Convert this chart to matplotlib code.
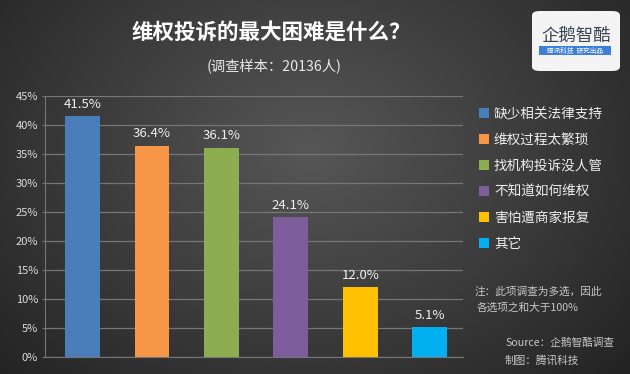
import numpy as np
import matplotlib
matplotlib.use("Agg")
import matplotlib.pyplot as plt
from matplotlib.patches import FancyBboxPatch, Rectangle

plt.rcParams['font.family'] = ['Noto Sans CJK SC', 'DejaVu Sans']

categories = ["缺少相关法律支持", "维权过程太繁琐", "找机构投诉没人管", "不知道如何维权", "害怕遭商家报复", "其它"]
values = [41.5, 36.4, 36.1, 24.1, 12.0, 5.1]
colors = ["#4A7EBB", "#F79646", "#8EAC50", "#7D5D9B", "#FFC000", "#00B0F0"]
yticks = [0, 5, 10, 15, 20, 25, 30, 35, 40, 45]
title = "维权投诉的最大困难是什么？"
subtitle = "(调查样本：20136人)"
note_lines = ["注：此项调查为多选，因此", "各选项之和大于100%"]
source_lines = ["Source：企鹅智酷调查", "制图：腾讯科技"]

W, H = 630, 374
fig = plt.figure(figsize=(W / 100, H / 100), dpi=100)

# background radial gradient
bg = fig.add_axes([0, 0, 1, 1], zorder=-10)
yy, xx = np.mgrid[0:H, 0:W]
d = np.sqrt(((xx - 310) / 420.0) ** 2 + ((yy - 150) / 330.0) ** 2)
g = np.clip(0.34 - 0.20 * d, 0.12, 0.37)
bg.imshow(np.dstack([g, g, g]), aspect='auto', extent=[0, 1, 0, 1])
bg.axis('off')

def fx(px):
    return px / W

def fy(py):
    return 1 - py / H

ax = fig.add_axes([fx(45), fy(357), fx(463) - fx(45), fy(96) - fy(357)])
ax.patch.set_alpha(0)
x = np.arange(len(categories))
bars = ax.bar(x, values, width=0.5, color=colors, zorder=3, label=categories)
ax.set_xlim(-0.54, 5.48)
ax.set_ylim(0, 45)
ax.set_yticks(yticks)
ax.set_yticklabels([f"{v}%" for v in yticks], color="#dddddd", fontsize=8)
ax.set_xticks([])
ax.yaxis.grid(True, color="#767676", linewidth=0.9, zorder=0)
for s in ["top", "right"]:
    ax.spines[s].set_visible(False)
ax.spines["left"].set_color("#767676")
ax.spines["bottom"].set_color("#767676")
ax.tick_params(axis='y', length=2, color="#767676", pad=3)

for b, v in zip(bars, values):
    ax.annotate(f"{v:.1f}%", (b.get_x() + b.get_width() / 2, v), xytext=(0, 4),
                textcoords="offset points", ha="center", va="bottom",
                color="#f0f0f0", fontsize=9.5)

fig.text(fx(271), fy(33), title, ha="center", va="center", color="white",
         fontsize=15.5, fontweight="bold")
fig.text(fx(274), fy(66), subtitle, ha="center", va="center", color="#e8e8e8",
         fontsize=10.3)

leg = fig.legend(handles=list(bars), labels=categories, loc="upper left",
                 bbox_to_anchor=(fx(479), fy(107)), frameon=False,
                 fontsize=9.8, labelcolor="#eeeeee", handlelength=0.75,
                 handleheight=0.75, handletextpad=0.35, labelspacing=0.88,
                 borderaxespad=0, borderpad=0)

fig.text(fx(475), fy(292), note_lines[0], ha="left", va="center", color="#c8c8c8",
         fontsize=7.7, style="italic")
fig.text(fx(477), fy(308), note_lines[1], ha="left", va="center", color="#c8c8c8",
         fontsize=7.7, style="italic")
fig.text(fx(505), fy(343), source_lines[0], ha="left", va="center", color="#c8c8c8",
         fontsize=7.7, style="italic")
fig.text(fx(505), fy(361), source_lines[1], ha="left", va="center", color="#c8c8c8",
         fontsize=7.7, style="italic")

# logo
logo = FancyBboxPatch((fx(532), fy(71)), fx(620) - fx(532), fy(11) - fy(71),
                      boxstyle="round,pad=0,rounding_size=0.012",
                      transform=fig.transFigure, facecolor="#f4f4f4",
                      edgecolor="none", zorder=5)
fig.patches.append(logo)
fig.text(fx(576), fy(36), "企鹅智酷", ha="center", va="center", color="#3b4654",
         fontsize=12.5, zorder=6)
strip = Rectangle((fx(539), fy(55)), fx(611) - fx(539), fy(46) - fy(55),
                  transform=fig.transFigure, facecolor="#3d7fd8", edgecolor="none",
                  zorder=6)
fig.patches.append(strip)
fig.text(fx(575), fy(50.5), "腾讯科技  研究出品", ha="center", va="center",
         color="white", fontsize=4.8, style="italic", zorder=7)

fig.savefig("out.png", dpi=100)
